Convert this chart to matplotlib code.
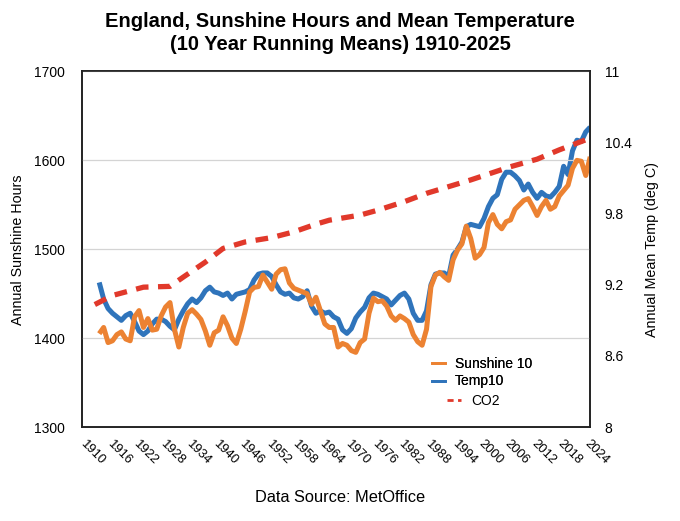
import matplotlib
matplotlib.use("Agg")
import matplotlib.pyplot as plt
from matplotlib.lines import Line2D
from matplotlib.transforms import ScaledTranslation

plt.rcParams['font.family'] = ['Liberation Sans', 'DejaVu Sans']

# 10-year running means, 1914-2025
years = list(range(1914, 2026))

sunshine10 = [
    1405, 1412, 1395, 1397, 1404, 1407, 1399, 1397, 1424, 1431,
    1412, 1422, 1409, 1410, 1425, 1435, 1440, 1410, 1390, 1412,
    1428, 1432, 1427, 1421, 1408, 1392, 1406, 1409, 1424, 1414,
    1400, 1394, 1410, 1430, 1452, 1457, 1458, 1471, 1463, 1455,
    1472, 1477, 1478, 1462, 1456, 1454, 1452, 1450, 1438, 1446,
    1431, 1416, 1412, 1412, 1390, 1394, 1392, 1386, 1384, 1395,
    1399, 1428, 1445, 1441, 1442, 1436, 1425, 1420, 1425, 1422,
    1418, 1404, 1396, 1392, 1410, 1458, 1471, 1474, 1469, 1465,
    1488, 1499, 1506, 1526, 1512, 1490, 1494, 1502, 1530, 1539,
    1528, 1523, 1531, 1533, 1545, 1550, 1555, 1557, 1548, 1538,
    1548, 1555, 1545, 1548, 1560, 1566, 1572, 1591, 1600, 1599,
    1583, 1604,
]

temp10 = [
    9.22, 9.08, 9.00, 8.96, 8.93, 8.90, 8.94, 8.96, 8.89, 8.81,
    8.78, 8.81, 8.87, 8.91, 8.91, 8.89, 8.85, 8.82, 8.91, 8.98,
    9.04, 9.08, 9.05, 9.09, 9.15, 9.18, 9.14, 9.13, 9.11, 9.13,
    9.08, 9.12, 9.13, 9.14, 9.16, 9.24, 9.29, 9.30, 9.30, 9.27,
    9.20, 9.14, 9.12, 9.13, 9.09, 9.08, 9.10, 9.15, 9.02, 8.96,
    8.98, 8.96, 8.97, 8.93, 8.91, 8.82, 8.79, 8.83, 8.92, 8.97,
    9.01, 9.09, 9.13, 9.12, 9.10, 9.08, 9.03, 9.07, 9.11, 9.13,
    9.08, 8.96, 8.90, 8.90, 8.98, 9.20, 9.29, 9.30, 9.30, 9.27,
    9.45, 9.50, 9.56, 9.69, 9.71, 9.70, 9.69, 9.76, 9.86, 9.93,
    9.96, 10.09, 10.15, 10.15, 10.12, 10.08, 10.00, 10.05, 9.98, 9.93,
    9.98, 9.95, 9.94, 9.98, 10.03, 10.20, 10.13, 10.33, 10.42, 10.41,
    10.49, 10.53,
]

co2_years = [1913, 1917, 1924, 1930, 1933, 1938, 1942, 1947, 1953, 1958,
             1963, 1966, 1973, 1977, 1983, 1988, 1993, 1998, 2007, 2013,
             2018, 2024, 2025]
co2 = [312.0, 316.6, 320.8, 321.2, 325.9, 333.5, 340.4, 343.7, 345.9, 348.8,
       352.7, 354.7, 357.3, 359.8, 364.1, 368.3, 371.7, 375.1, 381.8, 385.6,
       390.3, 395.4, 396.9]

x_ticks = list(range(1910, 2025, 6))
left_ticks = [1300, 1400, 1500, 1600, 1700]
right_ticks = [8, 8.6, 9.2, 9.8, 10.4, 11]
right_labels = ["8", "8.6", "9.2", "9.8", "10.4", "11"]

orange = '#EC8232'
blue = '#2F74BB'
red = '#E1392B'

fig = plt.figure(figsize=(6.8, 5.21), dpi=100)
ax = fig.add_axes([0.1199, 0.1804, 0.748, 0.6824])
ax2 = ax.twinx()
ax3 = ax.twinx()

# sunshine on left axis, drawn above temperature
ax.set_zorder(ax2.get_zorder() + 1)
ax.patch.set_visible(False)
ax3.set_zorder(ax.get_zorder() + 1)

ax.plot(years, sunshine10, color=orange, lw=3.6, solid_capstyle='butt')
ax2.plot(years, temp10, color=blue, lw=3.6, solid_capstyle='butt')
ax3.plot(co2_years, co2, color=red, lw=3.8, dashes=(2.4, 1.8))

ax.set_xlim(1910, 2025)
ax.set_ylim(1300, 1700)
ax2.set_ylim(8, 11)
ax3.set_ylim(250, 430)
ax3.set_axis_off()

ax.set_yticks(left_ticks)
ax.tick_params(axis='y', length=0, pad=12, labelsize=10)
ax2.set_yticks(right_ticks)
ax2.set_yticklabels(right_labels)
ax2.tick_params(axis='y', length=0, pad=10.5, labelsize=10)

ax.set_xticks(x_ticks)
ax.set_xticklabels([str(y) for y in x_ticks], rotation=-45, ha='left',
                   va='top', rotation_mode='anchor')
ax.tick_params(axis='x', length=0, pad=8, labelsize=9.4)
shift = ScaledTranslation(3.5 / 72, 0, fig.dpi_scale_trans)
for lab in ax.get_xticklabels():
    lab.set_transform(lab.get_transform() + shift)

ax.grid(axis='y', color='#d4d4d4', lw=0.9)
ax.set_axisbelow(True)
for a in (ax, ax2):
    for s in a.spines.values():
        s.set_color('#222222')
        s.set_linewidth(1.2)

fig.text(0.5, 1 - 33 / 521,
         "England, Sunshine Hours and Mean Temperature\n(10 Year Running Means) 1910-2025",
         ha='center', va='center', fontsize=14.5, fontweight='bold', linespacing=1.3)
fig.text(18 / 680, 0.521, "Annual Sunshine Hours", rotation=90,
         ha='center', va='center', fontsize=10.3)
fig.text(652 / 680, 0.521, "Annual Mean Temp (deg C)", rotation=90,
         ha='center', va='center', fontsize=10.3)
fig.text(0.5, 1 - 497 / 521, "Data Source: MetOffice", ha='center',
         va='center', fontsize=11.8)

h1 = [Line2D([], [], color=orange, lw=2), Line2D([], [], color=blue, lw=2)]
leg1 = fig.legend(h1, ["Sunshine 10", "Temp10"], loc='upper left',
                  bbox_to_anchor=(432 / 680, 1 - 357 / 521), frameon=False,
                  fontsize=10, handlelength=0.9, handletextpad=0.75,
                  labelspacing=0.25, borderpad=0, borderaxespad=0)
h2 = [Line2D([], [], color=red, lw=2, dashes=(2.2, 1.6))]
fig.legend(h2, ["CO2"], loc='upper left',
           bbox_to_anchor=(447 / 680, 1 - 394 / 521), frameon=False,
           fontsize=10, handlelength=1.0, handletextpad=0.75,
           borderpad=0, borderaxespad=0)
fig.add_artist(leg1)

fig.savefig("out.png", dpi=100)
